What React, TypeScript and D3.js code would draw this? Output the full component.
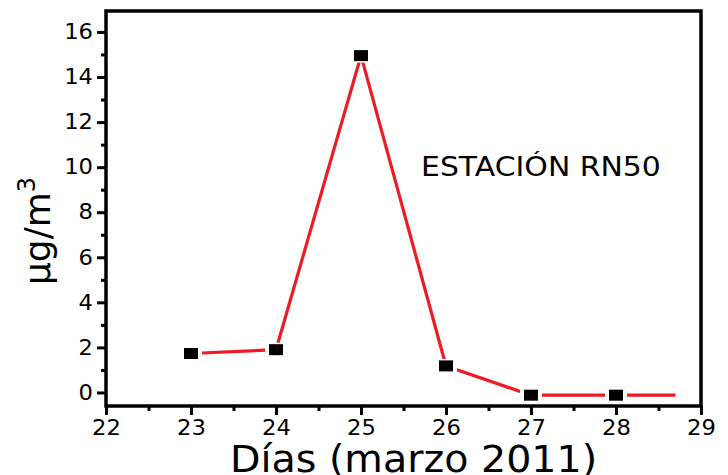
import React, { useEffect, useRef } from "react";
import * as d3 from "d3";

const days = [23, 24, 25, 26, 27, 28];
const values = [1.73, 1.9, 14.95, 1.18, -0.12, -0.12];
// the red line runs on a bit past the last marker
const tailDay = 28.7;
const tailValue = -0.12;

const xMajor = [22, 23, 24, 25, 26, 27, 28, 29];
const xMinor = [22.5, 23.5, 24.5, 25.5, 26.5, 27.5, 28.5];
const yMajor = [0, 2, 4, 6, 8, 10, 12, 14, 16];
const yMinor = [1, 3, 5, 7, 9, 11, 13, 15];

const xTitle = "Días (marzo 2011)";
const stationLabel = "ESTACIÓN RN50";

export default function App() {
  const ref = useRef<SVGSVGElement>(null);

  useEffect(() => {
    const W = 728, H = 475;
    const left = 106, right = 701, top = 11, bottom = 406;
    const font = "DejaVu Sans";

    const svg = d3.select(ref.current);
    svg.selectAll("*").remove();

    const x = d3.scaleLinear().domain([22, 29]).range([left, right]);
    const y = d3.scaleLinear().domain([-0.6, 16.93]).range([bottom, top]);

    svg.append("rect").attr("width", W).attr("height", H).attr("fill", "#fff");

    // axes (labels a touch wider, like the source)
    const styleAxis = (g: any) => {
      g.select(".domain").remove();
      g.selectAll("line").attr("stroke", "#000").attr("stroke-width", 3);
      g.selectAll("text").attr("font-family", font).attr("font-size", 21)
        .attr("fill", "#000").attr("transform", "scale(1.08,1)");
    };

    svg.append("g").attr("transform", `translate(${left},0)`)
      .call(d3.axisLeft(y).tickValues(yMajor).tickSize(9).tickPadding(3).tickFormat(d3.format("d")))
      .call(styleAxis);
    svg.append("g").attr("transform", `translate(${left},0)`)
      .call(d3.axisLeft(y).tickValues(yMinor).tickSize(5).tickFormat(() => ""))
      .call(styleAxis);
    svg.append("g").attr("transform", `translate(0,${bottom})`)
      .call(d3.axisBottom(x).tickValues(xMajor).tickSize(9).tickPadding(5).tickFormat(d3.format("d")))
      .call(styleAxis);
    svg.append("g").attr("transform", `translate(0,${bottom})`)
      .call(d3.axisBottom(x).tickValues(xMinor).tickSize(5).tickFormat(() => ""))
      .call(styleAxis);

    // frame
    svg.append("rect")
      .attr("x", left).attr("y", top)
      .attr("width", right - left).attr("height", bottom - top)
      .attr("fill", "none").attr("stroke", "#000").attr("stroke-width", 3.5);

    // line
    const pts: [number, number][] = days.map((d, i) => [d, values[i]]);
    pts.push([tailDay, tailValue]);
    const line = d3.line<[number, number]>().x(d => x(d[0])).y(d => y(d[1]));
    svg.append("path").attr("d", line(pts)).attr("fill", "none")
      .attr("stroke", "#f01b22").attr("stroke-width", 3.2);

    // markers with a white halo to cut the line
    const mw = 14, mh = 11;
    const mk = svg.append("g");
    mk.selectAll(".halo").data(days).join("rect").attr("class", "halo")
      .attr("x", d => x(d) - mw / 2 - 4).attr("y", (d, i) => y(values[i]) - mh / 2 - 1.5)
      .attr("width", mw + 8).attr("height", mh + 3).attr("fill", "#fff");
    mk.selectAll(".mark").data(days).join("rect").attr("class", "mark")
      .attr("x", d => x(d) - mw / 2).attr("y", (d, i) => y(values[i]) - mh / 2)
      .attr("width", mw).attr("height", mh).attr("fill", "#000");

    svg.append("text").attr("transform", "translate(421,176) scale(1.15,1)")
      .attr("font-family", font).attr("font-size", 26).attr("fill", "#000")
      .text(stationLabel);

    svg.append("text").attr("transform", "translate(230,472) scale(1.07,1)")
      .attr("font-family", font).attr("font-size", 37).attr("fill", "#000")
      .text(xTitle);

    const yt = svg.append("text")
      .attr("transform", "translate(50,231) rotate(-90)")
      .attr("text-anchor", "middle")
      .attr("font-family", font).attr("font-size", 36).attr("fill", "#000");
    yt.append("tspan").text("µg/m");
    yt.append("tspan").attr("font-size", 24).attr("dy", -15).text("3");
  }, []);

  return (
    <svg ref={ref} width={728} height={475}
      style={{ position: "absolute", left: 0, top: 0, display: "block" }} />
  );
}
